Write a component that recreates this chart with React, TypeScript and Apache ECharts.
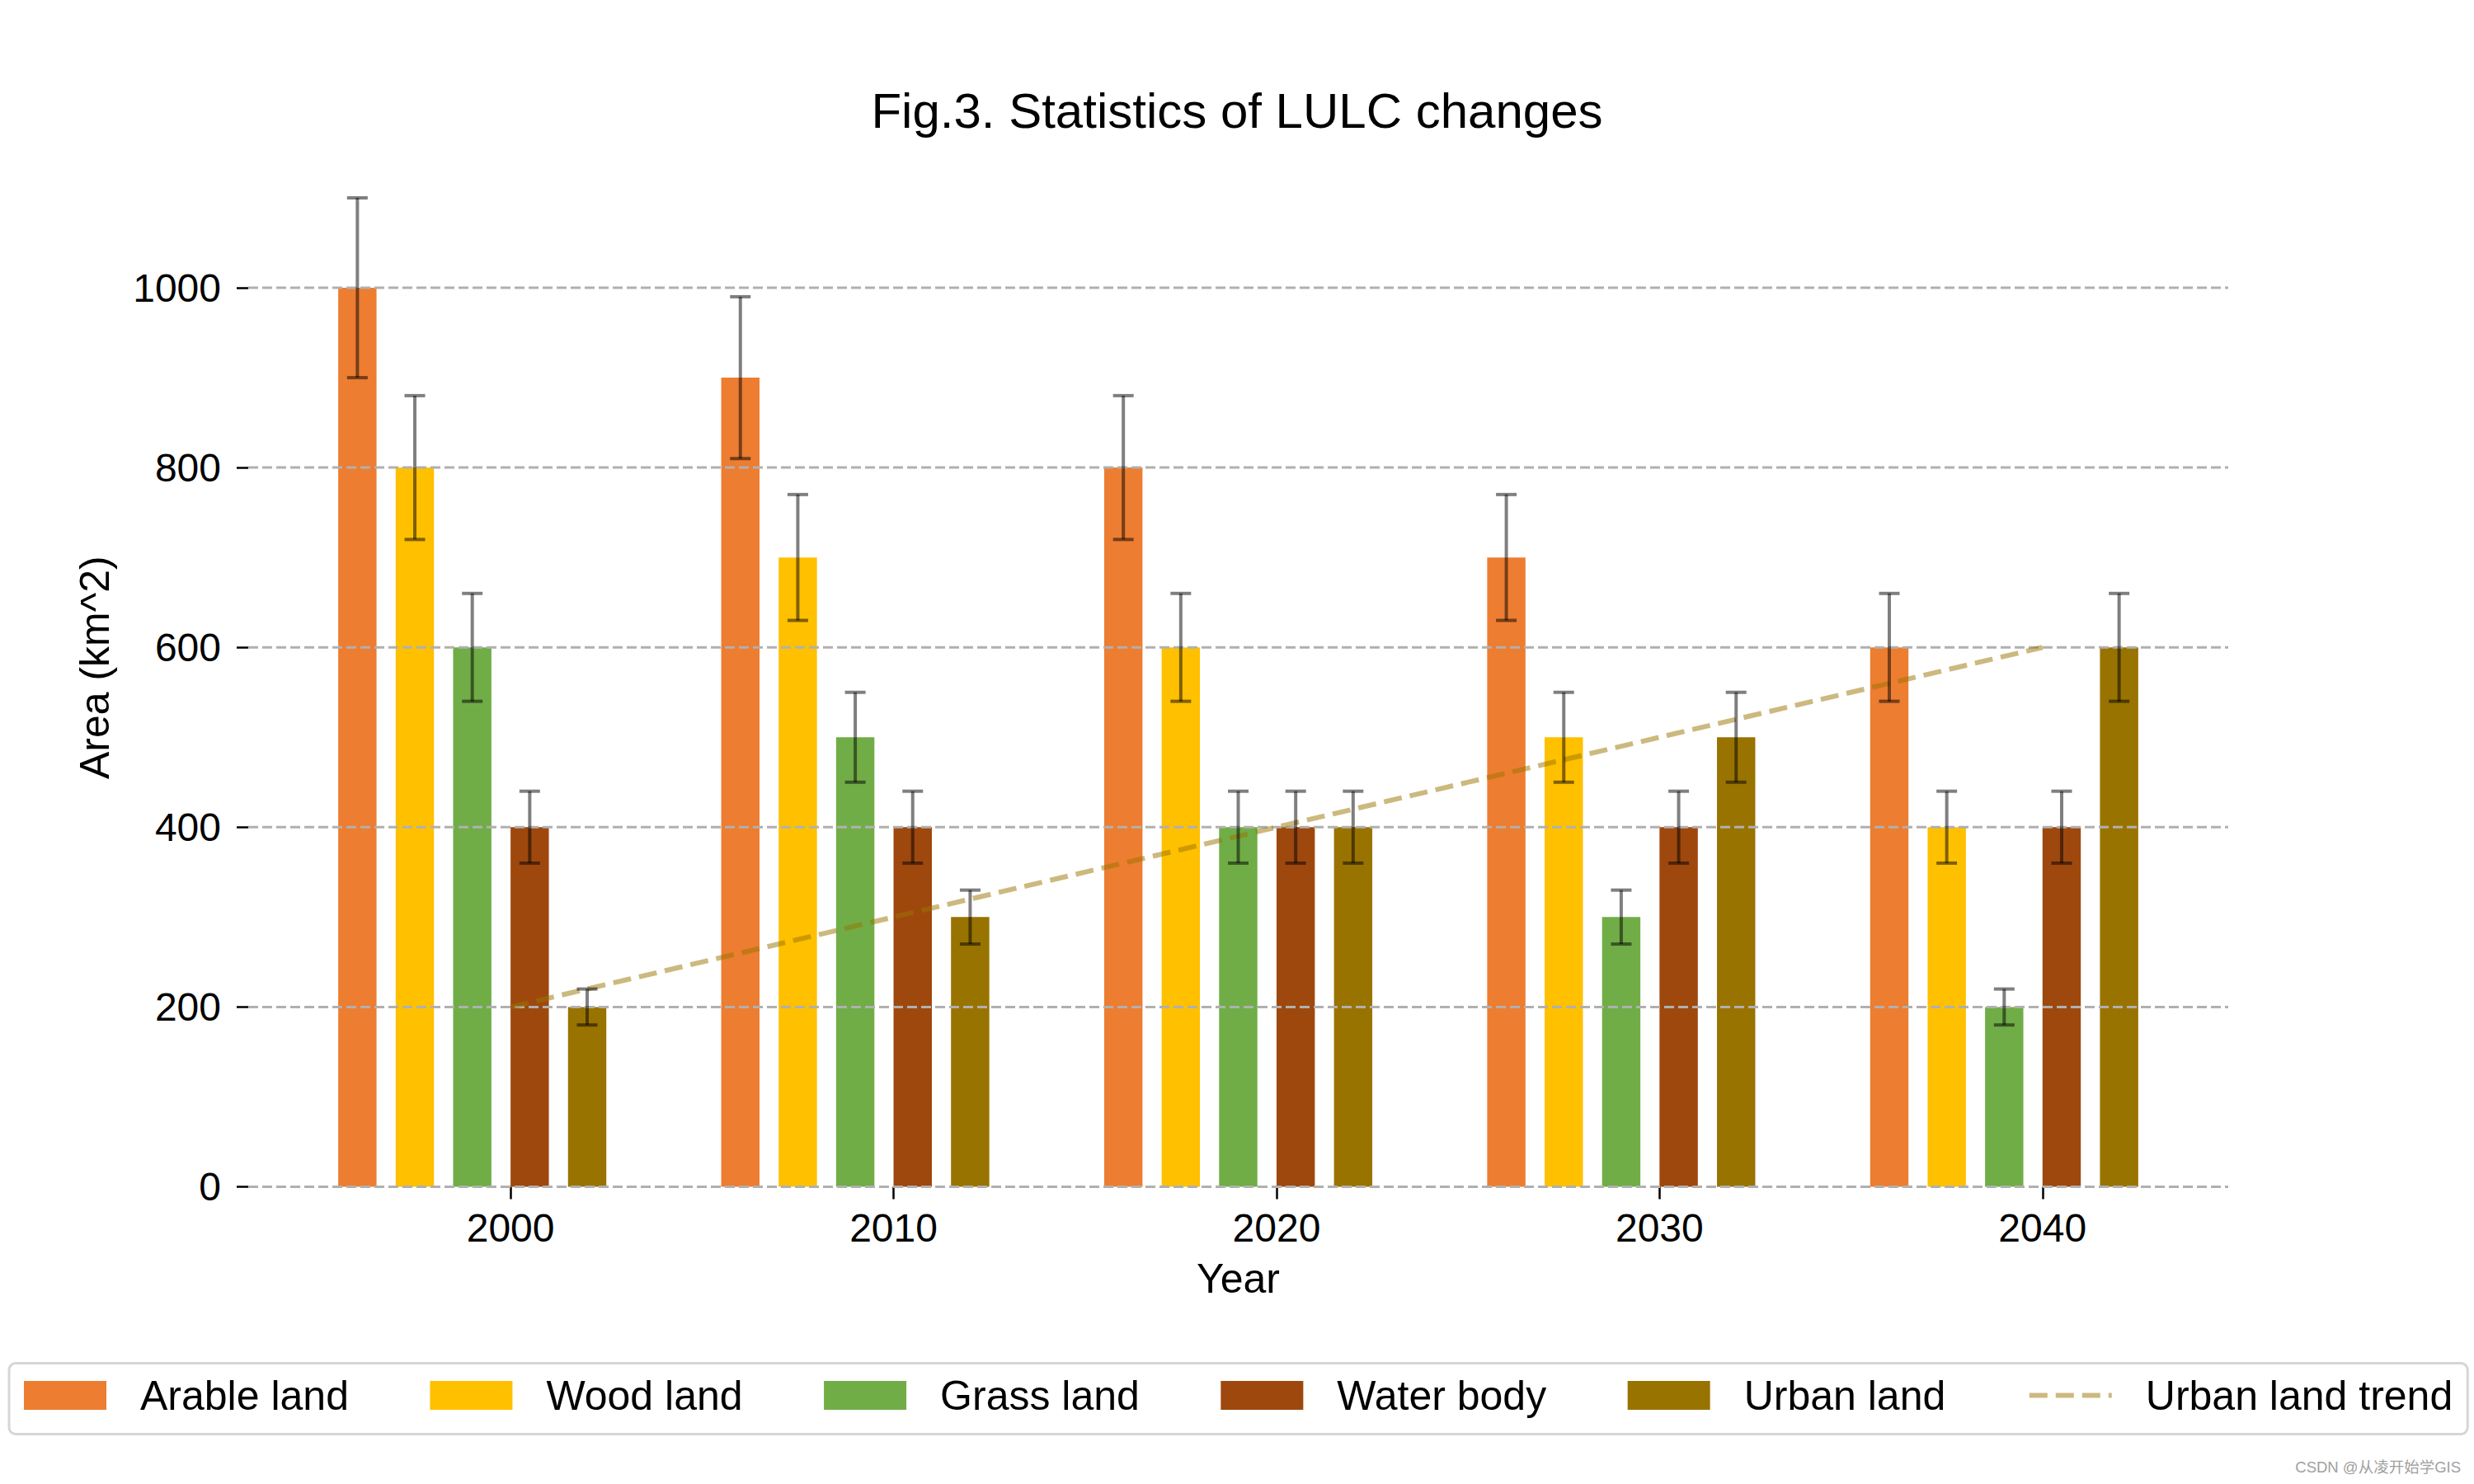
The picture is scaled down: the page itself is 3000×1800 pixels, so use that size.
import React, { useEffect, useRef } from "react";
import * as echarts from "echarts";

// ---------------- data ----------------
const years = [2000, 2010, 2020, 2030, 2040];
const landTypes = ["Arable land", "Wood land", "Grass land", "Water body", "Urban land"];
const arable = [1000, 900, 800, 700, 600];
const wood = [800, 700, 600, 500, 400];
const grass = [600, 500, 400, 300, 200];
const water = [400, 400, 400, 400, 400];
const urban = [200, 300, 400, 500, 600];
const arableErr = [100, 90, 80, 70, 60];
const woodErr = [80, 70, 60, 50, 40];
const grassErr = [60, 50, 40, 30, 20];
const waterErr = [40, 40, 40, 40, 40];
const urbanErr = [20, 30, 40, 50, 60];
const trendName = "Urban land trend";
const trendValues = [200, 300, 400, 500, 600];
const yTicks = [0, 200, 400, 600, 800, 1000];

const titleText = "Fig.3. Statistics of LULC changes";
const xName = "Year";
const yName = "Area (km^2)";
const watermark = "CSDN @从凌开始学GIS";

// ---------------- layout / style ----------------
const COLORS = ["#ED7D31", "#FFC000", "#70AD47", "#9E480E", "#997300"];
const TREND_COLOR = "rgba(153,115,0,0.5)";
const BAR_OFFSETS = [-4, -2.5, -1, 0.5, 2]; // in axis (year) units
const BAR_WIDTH = 1; // in axis (year) units
const FONT = "'Liberation Sans', Arial, Helvetica, sans-serif";

const values = [arable, wood, grass, water, urban];
const errors = [arableErr, woodErr, grassErr, waterErr, urbanErr];

export default function App() {
  const ref = useRef<HTMLDivElement>(null);

  useEffect(() => {
    if (!ref.current) return;
    const chart = echarts.init(ref.current, undefined, { renderer: "svg" });

    const barSeries = landTypes.map((name, k) => ({
      name,
      type: "custom",
      z: 1,
      itemStyle: { color: COLORS[k] },
      encode: { x: 0, y: 1 },
      data: years.map((yr, i) => [yr, values[k][i]]),
      renderItem: (params: any, api: any) => {
        const xc = api.value(0) + BAR_OFFSETS[k];
        const v = api.value(1);
        const a = api.coord([xc - BAR_WIDTH / 2, 0]);
        const b = api.coord([xc + BAR_WIDTH / 2, v]);
        return {
          type: "rect",
          shape: { x: a[0], y: b[1], width: b[0] - a[0], height: a[1] - b[1] },
          style: { fill: COLORS[k] },
        };
      },
    }));

    const gridSeries = {
      type: "custom",
      name: "__grid",
      z: 2,
      silent: true,
      encode: { x: 0, y: 1 },
      data: yTicks.map((v) => [years[0], v]),
      renderItem: (params: any, api: any) => {
        const cs = params.coordSys;
        const y = api.coord([api.value(0), api.value(1)])[1];
        return {
          type: "line",
          shape: { x1: cs.x, y1: y, x2: cs.x + cs.width, y2: y },
          style: { stroke: "#b0b0b0", lineWidth: 3, lineDash: [12, 5] },
        };
      },
    };

    const errData: number[][] = [];
    landTypes.forEach((_, k) => {
      years.forEach((yr, i) => {
        errData.push([yr, values[k][i], errors[k][i], k]);
      });
    });

    const errSeries = {
      type: "custom",
      name: "__err",
      z: 4,
      silent: true,
      encode: { x: 0, y: 1 },
      data: errData,
      renderItem: (params: any, api: any) => {
        const k = api.value(3);
        const xc = api.value(0) + BAR_OFFSETS[k];
        const v = api.value(1);
        const e = api.value(2);
        const top = api.coord([xc, v + e]);
        const bot = api.coord([xc, v - e]);
        const cap = 12.5;
        const st = { stroke: "rgba(0,0,0,0.5)", lineWidth: 4 };
        return {
          type: "group",
          children: [
            { type: "line", shape: { x1: top[0], y1: top[1], x2: bot[0], y2: bot[1] }, style: st },
            { type: "line", shape: { x1: top[0] - cap, y1: top[1], x2: top[0] + cap, y2: top[1] }, style: st },
            { type: "line", shape: { x1: bot[0] - cap, y1: bot[1], x2: bot[0] + cap, y2: bot[1] }, style: st },
          ],
        };
      },
    };

    const trendSeries = {
      name: trendName,
      type: "line",
      z: 3,
      symbol: "none",
      showSymbol: false,
      data: years.map((yr, i) => [yr, trendValues[i]]),
      lineStyle: { color: TREND_COLOR, width: 6, type: [22, 10] },
      itemStyle: { color: TREND_COLOR },
    };

    const option: any = {
      animation: false,
      backgroundColor: "#ffffff",
      textStyle: { fontFamily: FONT },
      title: {
        text: titleText,
        left: "center",
        top: 99,
        textStyle: { fontSize: 60, fontWeight: "normal", color: "#000", fontFamily: FONT },
      },
      grid: { left: 301, right: 298, top: 180, bottom: 360.5, containLabel: false },
      legend: {
        left: 11,
        top: 1653.5,
        orient: "horizontal",
        padding: [14, 18, 22, 18],
        itemWidth: 100,
        itemHeight: 35,
        itemGap: 98.5,
        backgroundColor: "#ffffff",
        borderColor: "#d6d6d6",
        borderWidth: 3,
        borderRadius: 8,
        textStyle: { fontSize: 50, color: "#000", fontFamily: FONT, padding: [0, 0, 0, 36] },
        data: [
          ...landTypes.map((n) => ({ name: n, icon: "rect" })),
          { name: trendName, itemStyle: { opacity: 0 }, lineStyle: { width: 6 } },
        ],
      },
      xAxis: {
        type: "value",
        min: 1993.15,
        max: 2044.85,
        name: xName,
        nameLocation: "middle",
        nameGap: 86,
        nameTextStyle: { fontSize: 50, color: "#000", fontFamily: FONT },
        axisLine: { show: false, onZero: false },
        axisTick: { show: true, length: 15, lineStyle: { color: "#000", width: 2.5 }, customValues: years },
        axisLabel: {
          show: true,
          customValues: years,
          margin: 26,
          fontSize: 48,
          color: "#000",
          fontFamily: FONT,
          formatter: (v: number) => String(v),
        },
        splitLine: { show: false },
      },
      yAxis: {
        type: "value",
        min: 0,
        max: 1155,
        name: yName,
        nameLocation: "middle",
        nameRotate: 90,
        nameGap: 161,
        nameTextStyle: { fontSize: 50, color: "#000", fontFamily: FONT },
        axisLine: { show: false, onZero: false },
        axisTick: { show: true, length: 14, lineStyle: { color: "#000", width: 2.5 }, customValues: yTicks },
        axisLabel: {
          show: true,
          customValues: yTicks,
          margin: 33,
          fontSize: 48,
          color: "#000",
          fontFamily: FONT,
          formatter: (v: number) => String(v),
        },
        splitLine: { show: false },
      },
      graphic: [
        {
          type: "text",
          right: 16,
          top: 1770,
          style: {
            text: watermark,
            fontSize: 18.5,
            fill: "#a0a0a0",
            fontFamily: "'Liberation Sans', 'Noto Sans CJK SC', sans-serif",
          },
        },
      ],
      series: [...barSeries, gridSeries, trendSeries, errSeries],
    };

    chart.setOption(option);
    return () => {
      chart.dispose();
    };
  }, []);

  return (
    <div
      ref={ref}
      style={{ position: "absolute", left: 0, top: 0, width: 3000, height: 1800, background: "#fff" }}
    />
  );
}
